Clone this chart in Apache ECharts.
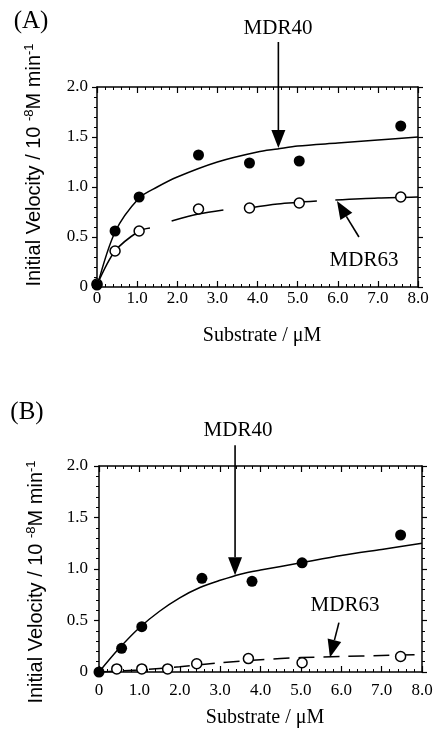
<!DOCTYPE html>
<html>
<head>
<meta charset="utf-8">
<title>MDR40 / MDR63</title>
<script src="https://cdn.jsdelivr.net/npm/echarts@6/dist/echarts.min.js"></script>
<style>
  html, body { margin: 0; padding: 0; background: #fff; }
  #chart { width: 436px; height: 731px; }
</style>
</head>
<body>
<div id="chart"></div>
<script>
// tick labels
const xTickLabels = ['0', '1.0', '2.0', '3.0', '4.0', '5.0', '6.0', '7.0', '8.0'];
const yTickLabels = ['0', '0.5', '1.0', '1.5', '2.0'];

// panel A: measured points
const a40Points = [[0, 0.02], [0.45, 0.56], [1.05, 0.9], [2.53, 1.32], [3.8, 1.24], [5.04, 1.26], [7.57, 1.61]];
const a63Points = [[0, 0.03], [0.45, 0.36], [1.05, 0.56], [2.53, 0.78], [3.8, 0.79], [5.04, 0.84], [7.57, 0.9]];
// panel A: fitted curves ('-' = gap in the broken line)
const a40Curve = [[0, 0], [0.45, 0.55], [1.05, 0.89], [1.5, 1.0], [2, 1.1], [3, 1.25], [4, 1.35], [4.5, 1.38], [5, 1.41], [6, 1.44], [7, 1.47], [8, 1.5]];
const a63Curve = [[0, 0.02], [0.45, 0.36], [1.05, 0.56], [1.32, 0.59], [1.6, '-'],
                  [1.86, 0.66], [2.53, 0.73], [3.15, 0.77], [3.5, '-'],
                  [3.8, 0.79], [4.5, 0.83], [5.48, 0.86], [5.7, '-'],
                  [5.94, 0.87], [7, 0.89], [8, 0.9]];

// panel B: measured points
const b40Points = [[0, 0], [0.56, 0.23], [1.06, 0.44], [2.55, 0.91], [3.79, 0.88], [5.03, 1.06], [7.47, 1.33]];
const b63Points = [[0.44, 0.03], [1.06, 0.03], [1.7, 0.03], [2.42, 0.08], [3.7, 0.13], [5.03, 0.09], [7.47, 0.15]];
// panel B: fitted curves
const b40Curve = [[0, 0], [0.5, 0.23], [1, 0.43], [1.5, 0.59], [2, 0.72], [2.5, 0.82], [3, 0.89], [3.5, 0.95], [4, 0.99], [5, 1.06], [6, 1.13], [7, 1.19], [8, 1.25]];
const b63Curve = [[0, 0], [1, 0.02], [2, 0.05], [3, 0.09], [4, 0.12], [5, 0.14], [6, 0.15], [7, 0.16], [8, 0.17]];

// arrow tips (data coords) for the labels
const arrowTips = [
  { grid: 0, tip: [4.52, 1.39], dx: 0, dy: -106 },
  { grid: 0, tip: [5.98, 0.86], dx: 22, dy: 36 },
  { grid: 1, tip: [3.37, 0.94], dx: 0, dy: -130 },
  { grid: 1, tip: [5.72, 0.14], dx: 9, dy: -35 }
];

const serif = 'Liberation Serif';
const sans = 'Liberation Sans';

const chart = echarts.init(document.getElementById('chart'));

function xAxisFor(grid, pos, margin) {
  return {
    type: 'value', gridIndex: grid, position: pos, min: 0, max: 8, interval: 1,
    axisLine: { show: true, onZero: false, lineStyle: { color: '#000', width: 1.5 } },
    axisTick: { show: true, inside: true, length: 6, lineStyle: { color: '#000', width: 1.2 } },
    minorTick: { show: true, splitNumber: 5, length: 3, lineStyle: { color: '#000', width: 1 } },
    splitLine: { show: false },
    axisLabel: {
      show: pos === 'bottom', margin: margin, color: '#000', fontFamily: serif, fontSize: 17,
      formatter: v => xTickLabels[Math.round(v)]
    }
  };
}

function yAxisFor(grid, pos, margin) {
  return {
    type: 'value', gridIndex: grid, position: pos, min: 0, max: 2, interval: 0.5,
    axisLine: { show: true, onZero: false, lineStyle: { color: '#000', width: 1.5 } },
    axisTick: { show: true, inside: false, length: 5, lineStyle: { color: '#000', width: 1.2 } },
    minorTick: { show: true, splitNumber: 5, length: 3, lineStyle: { color: '#000', width: 1 } },
    splitLine: { show: false },
    axisLabel: {
      show: pos === 'left', margin: margin, color: '#000', fontFamily: serif, fontSize: 17,
      formatter: v => yTickLabels[Math.round(v * 2)]
    }
  };
}

function curve(data, xi, yi, dash) {
  return {
    type: 'line', xAxisIndex: xi, yAxisIndex: yi, data: data, smooth: 0.3,
    showSymbol: false, symbol: 'none', connectNulls: false, silent: true, z: 2,
    lineStyle: { color: '#000', width: 1.5, type: dash || 'solid' }
  };
}

function dots(data, xi, yi, filled) {
  return {
    type: 'scatter', xAxisIndex: xi, yAxisIndex: yi, data: data, z: 3,
    symbol: 'circle', symbolSize: filled ? 11 : 10,
    itemStyle: filled
      ? { color: '#000', opacity: 1 }
      : { color: '#fff', borderColor: '#000', borderWidth: 1.5, opacity: 1 }
  };
}

function text(str, x, y, size, font) {
  return {
    type: 'text', x: x, y: y, z: 10,
    style: { text: str, fill: '#000', fontFamily: font, fontSize: size, align: 'center', verticalAlign: 'middle' }
  };
}

function yTitle(x, y) {
  return {
    type: 'text', x: x, y: y, rotation: Math.PI / 2, z: 10,
    style: {
      text: 'Initial Velocity / 10 {s|-8}M min{s|-1}',
      fill: '#000', fontFamily: sans, fontSize: 20, align: 'center', verticalAlign: 'middle',
      rich: { s: { fontFamily: sans, fontSize: 13, verticalAlign: 'top', padding: [0, 0, 9, 0] } }
    }
  };
}

const labelGraphics = [
  text('(A)', 31, 21, 25, serif),
  text('(B)', 27, 412, 25, serif),
  text('MDR40', 278, 28, 21, serif),
  text('MDR63', 364, 260, 21, serif),
  text('MDR40', 238, 430, 21, serif),
  text('MDR63', 345, 605, 21, serif),
  text('Substrate / \u03bcM', 262, 336, 20, serif),
  text('Substrate / \u03bcM', 265, 718, 20, serif),
  yTitle(34, 165),
  yTitle(36, 582)
];

chart.setOption({
  animation: false,
  backgroundColor: '#fff',
  grid: [
    { left: 97, top: 87, width: 321, height: 200 },
    { left: 99, top: 466, width: 323, height: 206 }
  ],
  xAxis: [xAxisFor(0, 'bottom', 3), xAxisFor(0, 'top', 8), xAxisFor(1, 'bottom', 10), xAxisFor(1, 'top', 8)],
  yAxis: [yAxisFor(0, 'left', 9), yAxisFor(0, 'right', 8), yAxisFor(1, 'left', 11), yAxisFor(1, 'right', 8)],
  series: [
    curve(a40Curve, 0, 0),
    curve(a63Curve, 0, 0),
    dots(a63Points, 0, 0, false),
    dots(a40Points, 0, 0, true),
    curve(b40Curve, 2, 2),
    curve(b63Curve, 2, 2, [16, 9]),
    dots(b63Points, 2, 2, false),
    dots(b40Points, 2, 2, true)
  ],
  graphic: labelGraphics
});

// arrows: shaft + filled head, tip placed through the grid's own scales
const arrowGraphics = [];
arrowTips.forEach(a => {
  const p = chart.convertToPixel({ gridIndex: a.grid }, a.tip);
  const tx = p[0], ty = p[1];
  const sx = tx + a.dx, sy = ty + a.dy;
  const len = Math.hypot(a.dx, a.dy);
  const ux = -a.dx / len, uy = -a.dy / len; // direction toward tip
  const headL = 18, headW = 7;
  const bx = tx - ux * headL, by = ty - uy * headL;
  arrowGraphics.push({
    type: 'line', z: 9,
    shape: { x1: sx, y1: sy, x2: bx, y2: by },
    style: { stroke: '#000', lineWidth: 1.6 }
  });
  arrowGraphics.push({
    type: 'polygon', z: 9,
    shape: { points: [[tx, ty], [bx - uy * headW, by + ux * headW], [bx + uy * headW, by - ux * headW]] },
    style: { fill: '#000' }
  });
});

chart.setOption({ graphic: labelGraphics.concat(arrowGraphics) });
</script>
</body>
</html>
